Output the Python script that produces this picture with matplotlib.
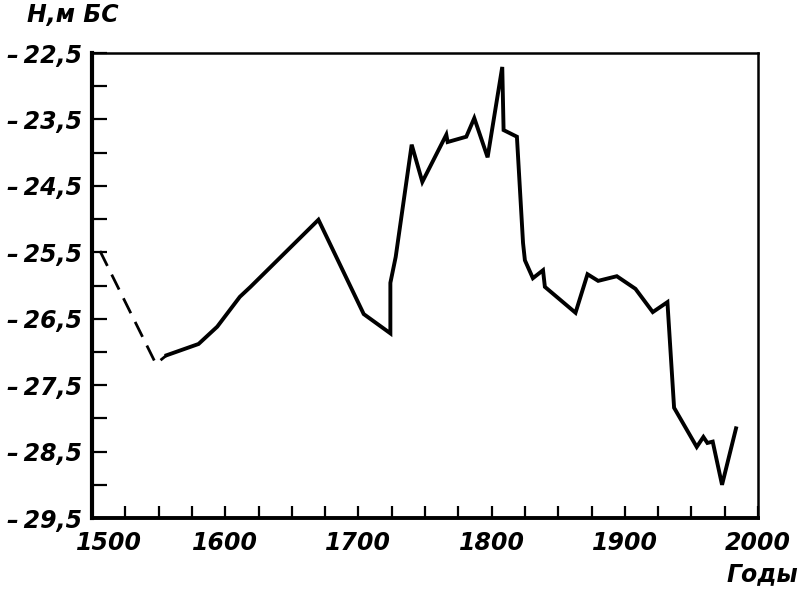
import matplotlib
matplotlib.use("Agg")
import matplotlib.pyplot as plt
import matplotlib.transforms as mtransforms

# Data
years_dashed = [1506, 1548, 1556]
level_dashed = [-25.48, -27.18, -27.05]

years = [1556, 1580, 1594, 1611, 1619, 1670, 1704, 1724, 1724, 1728, 1740,
         1748, 1766, 1767, 1781, 1787, 1797, 1808, 1809, 1819, 1823.6, 1825,
         1831, 1838.6, 1840, 1863, 1872, 1880, 1894, 1908, 1921, 1932, 1937,
         1954, 1959, 1962, 1966, 1973, 1983.5]
level = [-27.05, -26.88, -26.62, -26.17, -26.02, -25.01, -26.43, -26.72, -25.96,
         -25.57, -23.88, -24.44, -23.73, -23.84, -23.76, -23.48, -24.07, -22.71,
         -23.66, -23.76, -25.36, -25.62, -25.89, -25.77, -26.02, -26.41, -25.83,
         -25.93, -25.86, -26.05, -26.40, -26.25, -27.84, -28.43, -28.28, -28.37,
         -28.35, -29.00, -28.15]

y_major = [-29.5, -28.5, -27.5, -26.5, -25.5, -24.5, -23.5, -22.5]
y_labels = ["–\u200929,5", "–\u200928,5", "–\u200927,5", "–\u200926,5",
            "–\u200925,5", "–\u200924,5", "–\u200923,5", "–\u200922,5"]
y_minor = [-29, -28, -27, -26, -25, -24, -23]
x_major = [1500, 1600, 1700, 1800, 1900, 2000]
x_labels = ["1500", "1600", "1700", "1800", "1900", "2000"]
x_minor = [1525, 1550, 1575, 1625, 1650, 1675, 1725, 1750, 1775, 1825, 1850,
           1875, 1925, 1950, 1975]

plt.rcParams['font.family'] = ['DejaVu Sans']

fig = plt.figure(figsize=(8.0, 5.89), dpi=100)
ax = fig.add_axes([0.115, 0.1205, 0.8325, 0.7895])

ax.plot(years_dashed, level_dashed, color='black', lw=2.0, linestyle=(0, (6, 3.5)))
ax.plot(years, level, color='black', lw=2.8, solid_joinstyle='miter')

ax.set_xlim(1500, 2000)
ax.set_ylim(-29.5, -22.5)

ax.set_yticks(y_major)
ax.set_yticklabels(y_labels)
ax.set_yticks(y_minor, minor=True)
ax.set_xticks(x_major)
ax.set_xticklabels(x_labels)
ax.set_xticks(x_minor, minor=True)

ax.tick_params(axis='y', which='both', direction='in', length=11, width=1.6,
               pad=7, labelsize=17)
ax.tick_params(axis='x', which='both', direction='in', length=9, width=1.6,
               pad=9, labelsize=17)
for lab in ax.get_xticklabels() + ax.get_yticklabels():
    lab.set_fontstyle('italic')
    lab.set_fontweight('bold')

# shift the first x label right (as in the reference)
first = ax.get_xticklabels()[0]
first.set_transform(first.get_transform() +
                    mtransforms.ScaledTranslation(17 / 100, 0, fig.dpi_scale_trans))

ax.spines['left'].set_linewidth(3.0)
ax.spines['bottom'].set_linewidth(2.8)
ax.spines['top'].set_linewidth(1.8)
ax.spines['right'].set_linewidth(1.8)

fig.text(73 / 800, 1 - 15 / 589, "Н,м БС", ha='center', va='center',
         fontsize=17, fontstyle='italic', fontweight='bold')
fig.text(762 / 800, 1 - 574 / 589, "Годы", ha='center', va='center',
         fontsize=17, fontstyle='italic', fontweight='bold')

fig.savefig("out.png", dpi=100)
